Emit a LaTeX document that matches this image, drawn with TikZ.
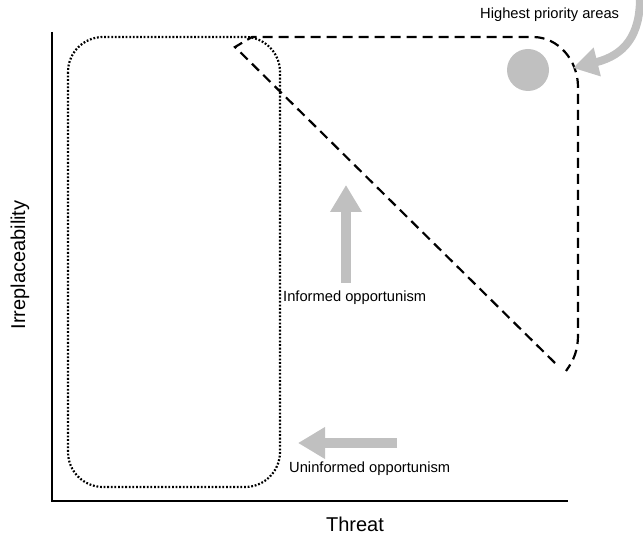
\documentclass[tikz,border=0pt]{standalone}
\usepackage{fontspec}
\setmainfont{Liberation Sans}
\usetikzlibrary{arrows.meta}
\definecolor{areagrey}{RGB}{192,192,192}

\begin{document}
\begin{tikzpicture}[x=1pt,y=-1pt,
  axislabel/.style={font=\fontsize{20}{23}\selectfont},
  smalllabel/.style={font=\fontsize{14.7}{17}\selectfont, anchor=west, inner sep=0pt},
  greyarrow/.style={areagrey, line width=10pt, -{Triangle[width=30pt,length=27pt]}},
  dottedzone/.style={line width=2.2pt, dash pattern=on 1.8pt off 1.8pt, rounded corners=35pt},
  dashedzone/.style={line width=2.2pt, dash pattern=on 10pt off 6pt}]

\useasboundingbox (0,0) rectangle (643,540);

% Axes
\draw[line width=2.5pt] (52,32) -- (52,501) -- (568,501);
\node[axislabel] (threat) at (355,524) {Threat};
\node[axislabel, rotate=90] (irrepl) at (20,265) {Irreplaceability};

% Uninformed zone
\draw[dottedzone] (68,37) rectangle (280,487);

% Informed zone
\draw[dashedzone] (555,363) -- (235,47) -- (252,37) -- (533,37)
  .. controls (558,37) and (578,60) .. (578,87) -- (578,335)
  .. controls (578,350) and (574,360) .. (566,371);

% Highest priority spot
\fill[areagrey] (528,70) circle (21pt);

% Arrows
\draw[greyarrow] (346,283) -- (346,185);
\draw[greyarrow] (397,443) -- (298,443);
\draw[greyarrow, line width=8pt, -{Triangle[width=28pt,length=25pt]}]
  (640,-2) .. controls (640,35) and (625,55) .. (573,68);

% Labels
\node[smalllabel] (informed) at (283,298) {Informed opportunism};
\node[smalllabel] (uninformed) at (289,469) {Uninformed opportunism};
\node[smalllabel] (highest) at (480,15) {Highest priority areas};

\end{tikzpicture}
\end{document}
